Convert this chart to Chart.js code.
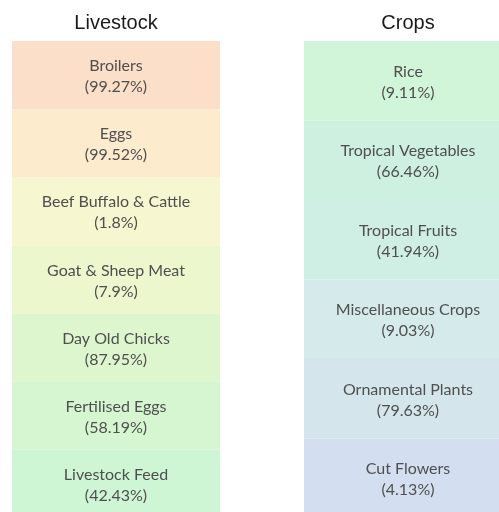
<!DOCTYPE html>
<html>
<head>
<meta charset="utf-8">
<script src="https://cdn.jsdelivr.net/npm/chart.js@4.4.1/dist/chart.umd.min.js"></script>
<style>
  html, body { margin: 0; padding: 0; background: #fff; overflow: hidden; }
  #wrap { position: relative; width: 499px; height: 512px; overflow: hidden; }
  #chart { position: absolute; left: -30px; top: 0; }
</style>
</head>
<body>
<div id="wrap"><canvas id="chart" width="584" height="518"></canvas></div>
<script>
const colunas = ["Livestock", "Crops"]

const livestockItems = ["Broilers", "Eggs", "Beef Buffalo & Cattle", "Goat & Sheep Meat", "Day Old Chicks", "Fertilised Eggs", "Livestock Feed"]
const livestockSSR = [99.27, 99.52, 1.8, 7.9, 87.95, 58.19, 42.43]
const livestockBlocos = [1, 1, 1, 1, 1, 1, 1]
const livestockCores = ["#fbdfc9", "#fcebcd", "#f6f7d0", "#ecf7cd", "#ddf6cd", "#d5f6d0", "#cef6d5"]

const cropItems = ["Rice", "Tropical Vegetables", "Tropical Fruits", "Miscellaneous Crops", "Ornamental Plants", "Cut Flowers"]
const cropSSR = [9.11, 66.46, 41.94, 9.03, 79.63, 4.13]
const cropBlocos = [1, 1, 1, 1, 1, 1]
const cropCores = ["#d0f5d8", "#cef0e0", "#d0efe4", "#d4eaeb", "#d4e6ec", "#d3def0"]

function montarDatasets() {
  const lista = []
  livestockItems.forEach((nome, i) => {
    lista.push({
      label: nome,
      pct: livestockSSR[i],
      data: [livestockBlocos[i], null],
      backgroundColor: livestockCores[i],
      yAxisID: "yL"
    })
  })
  cropItems.forEach((nome, i) => {
    lista.push({
      label: nome,
      pct: cropSSR[i],
      data: [null, cropBlocos[i]],
      backgroundColor: cropCores[i],
      yAxisID: "yC"
    })
  })
  return lista
}

// escreve nome e percentual no meio de cada bloco
const rotulos = {
  id: "rotulos",
  afterDatasetsDraw(chart) {
    const ctx = chart.ctx
    ctx.save()
    ctx.fillStyle = "#4f4f4f"
    ctx.font = "16px Lato"
    ctx.textAlign = "center"
    ctx.textBaseline = "alphabetic"
    chart.data.datasets.forEach((ds, d) => {
      const meta = chart.getDatasetMeta(d)
      meta.data.forEach((bar, i) => {
        if (ds.data[i] == null) return
        const meio = (bar.y + bar.base) / 2
        ctx.fillText(ds.label, bar.x, meio - 4)
        ctx.fillText("(" + ds.pct + "%)", bar.x, meio + 17)
      })
    })
    ctx.restore()
  }
}

new Chart(document.getElementById("chart"), {
  type: "bar",
  data: {
    labels: colunas,
    datasets: montarDatasets()
  },
  options: {
    responsive: false,
    animation: false,
    barPercentage: 0.7123,
    categoryPercentage: 1,
    borderWidth: 0,
    layout: { padding: 0 },
    plugins: {
      legend: { display: false },
      tooltip: { enabled: false }
    },
    scales: {
      x: {
        position: "top",
        stacked: true,
        grid: { display: false, drawTicks: false },
        border: { display: false },
        ticks: {
          color: "#1a1a1a",
          font: { family: "Liberation Sans", size: 20 },
          padding: 6
        },
        afterFit: s => { s.height = 41 }
      },
      yL: { stacked: true, reverse: true, min: 0, max: 7, display: false },
      yC: { stacked: true, reverse: true, min: 0, max: 6, display: false }
    }
  },
  plugins: [rotulos]
})
</script>
</body>
</html>
